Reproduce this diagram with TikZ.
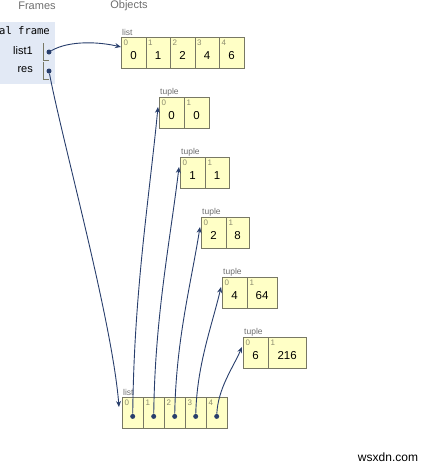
\documentclass[tikz,border=0pt]{standalone}
\usepackage{fontspec}
\setmainfont{Liberation Sans}
\setmonofont{DejaVu Sans Mono}
\usetikzlibrary{arrows.meta,positioning}
\definecolor{ptnavy}{RGB}{40,62,108}
\definecolor{ptcell}{RGB}{255,255,198}
\definecolor{ptline}{RGB}{120,120,100}
\definecolor{ptframe}{RGB}{226,233,245}
\definecolor{ptgray}{RGB}{110,110,110}
\definecolor{ptidx}{RGB}{140,140,110}

\begin{document}
\begin{tikzpicture}[x=1pt,y=-1pt,
      cell/.style={draw=ptline,fill=ptcell,anchor=north west,minimum height=31pt,inner sep=0pt,
        text height=13pt,text depth=0pt,font=\fontsize{11.5}{13}\selectfont},
      idx/.style={anchor=north west,inner xsep=2.5pt,inner ysep=2.5pt,text=ptidx,font=\fontsize{8}{9}\selectfont},
      tag/.style={anchor=south west,inner sep=1pt,text=ptgray,font=\fontsize{8.5}{10}\selectfont},
      head/.style={text=ptgray,inner sep=0pt,font=\fontsize{11}{12}\selectfont},
      var/.style={anchor=east,inner sep=0pt,font=\fontsize{11}{12}\selectfont},
      ptr/.style={-{Stealth[length=6pt,width=5pt]},ptnavy,line width=0.9pt},
      dot/.style={circle,fill=ptnavy,inner sep=0pt,minimum size=5pt}]
  \useasboundingbox (0,0) rectangle (431,469);
  % headings
  \node[head] (hfr) at (37,5.5) {Frames};
  \node[head] (hob) at (129,5.5) {Objects};
  % global frame
  \node[fill=ptframe,anchor=north west,minimum width=55pt,minimum height=62pt,inner sep=0pt] (frm) at (0,22) {};
  \node[anchor=east,inner sep=0pt,font=\ttfamily\fontsize{10.5}{12}\selectfont] (fname) at (50,31) {al frame};
  \node[var] (vlist) at (33,51) {list1};
  \node[var] (vres) at (33,70) {res};
  \draw[ptline] (43,43) -- (43,60) -- (49,60);
  \draw[ptline] (43,62) -- (43,79) -- (49,79);
  \node[dot] (plist) at (49,52) {};
  \node[dot] (pres) at (49,71) {};
  % list1
  \foreach \v [count=\i from 0] in {0,1,2,4,6}
    \node[cell,minimum width=24.5pt,label={[idx]north west:\i}] (a\i) at (121+24.5*\i,37) {\v};
  \node[tag] (ltop) at (a0.north west) {list};
  % tuples
  \foreach \a/\b/\w [count=\i from 0] in {0/0/25,1/1/24,2/8/23,4/64/30,6/216/38} {
    \node[cell,minimum width=24.5pt,label={[idx]north west:0}] (t\i-0) at (159+21*\i,97+60*\i) {\a};
    \node[cell,minimum width=\w pt,label={[idx]north west:1}] (t\i-1) at (t\i-0.north east) {\b};
    \node[tag] (tt\i) at (t\i-0.north west) {tuple};
  }
  % res list
  \foreach \i in {0,...,4} {
    \node[cell,minimum width=21pt,label={[idx]north west:\i}] (b\i) at (122+21*\i,397) {};
    \node[dot] (d\i) at ([yshift=-3.7pt]b\i.center) {};
  }
  \node[tag] (lbot) at (b0.north west) {list};
  % pointers
  \coordinate (inA) at ([yshift=-10pt]a0.north west);
  \coordinate (inB) at ([xshift=-3pt,yshift=-10pt]b0.north west);
  \draw[ptr] (plist) .. controls (70,40) and (100,42) .. (inA);
  \draw[ptr] (pres) .. controls (62,140) and (112,320) .. (inB);
  \foreach \i in {0,...,4} {
    \coordinate (in\i) at ([xshift=-1pt,yshift=-10pt]t\i-0.north west);
    \draw[ptr] (d\i) .. controls (134+21*\i,416-0.4*309+0.4*60*\i)
      and (149+21*\i,107+60*\i+0.3*309-0.3*60*\i) .. (in\i);
  }
  \node[inner sep=0pt,font=\fontsize{12}{13}\selectfont] (wm) at (388,457) {wsxdn.com};
\end{tikzpicture}
\end{document}
